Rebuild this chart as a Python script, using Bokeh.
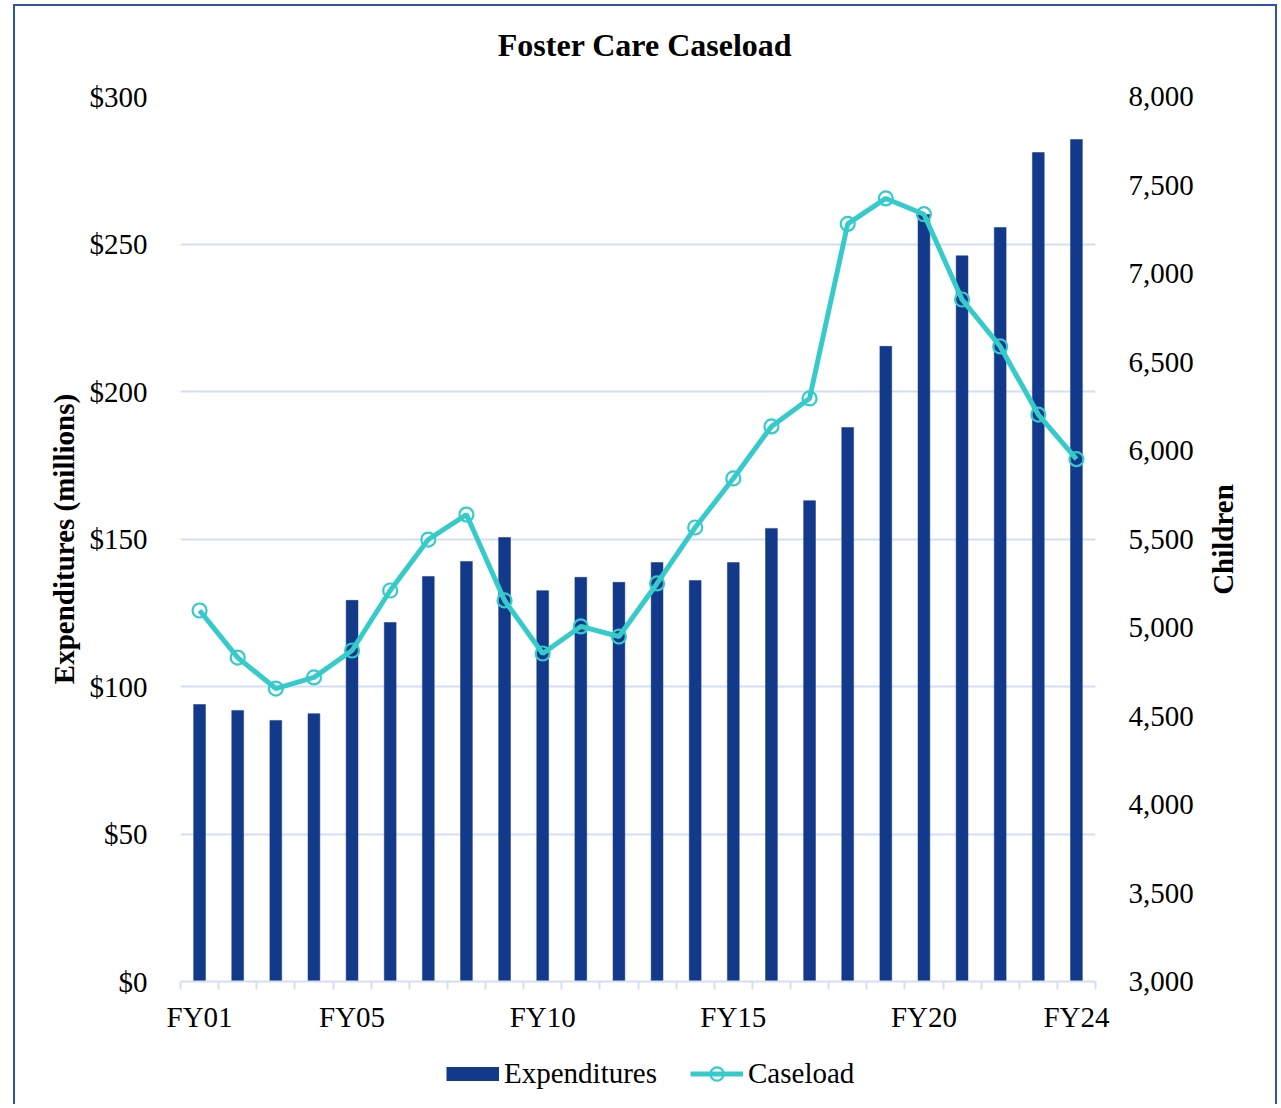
from bokeh.plotting import figure
from bokeh.layouts import column, row
from bokeh.models import (Range1d, LinearAxis, FixedTicker, SingleIntervalTicker,
                          NumeralTickFormatter, Legend, LegendItem, Label, InlineStyleSheet)
from bokeh.core.properties import value
from bokeh.embed import file_html
from bokeh.resources import INLINE
import math

categories = ["FY01", "FY02", "FY03", "FY04", "FY05", "FY06", "FY07", "FY08",
              "FY09", "FY10", "FY11", "FY12", "FY13", "FY14", "FY15", "FY16",
              "FY17", "FY18", "FY19", "FY20", "FY21", "FY22", "FY23", "FY24"]
expenditures = [93.9, 91.9, 88.5, 90.8, 129.2, 121.7, 137.3, 142.4, 150.5, 132.5,
                137.0, 135.3, 142.0, 135.9, 142.0, 153.6, 163.0, 187.8, 215.3, 260.0,
                246.0, 255.6, 281.0, 285.4]
caseload = [5096, 4830, 4655, 4718, 4870, 5209, 5497, 5638, 5153, 4853,
            5006, 4949, 5249, 5565, 5842, 6136, 6294, 7280, 7424, 7335,
            6853, 6588, 6203, 5951]
labeled = ["FY01", "FY05", "FY10", "FY15", "FY20", "FY24"]
title_text = "Foster Care Caseload"
left_title = "Expenditures (millions)"
right_title = "Children"

FONT = "Liberation Serif"
BAR = "#13398A"
LINE = "#36CBCB"
GRID = "#D3DEF3"
FRAME = "#2E54A0"

W = 1280
FL, FR = 180, 1095          # frame left / right (page px)
TOP_H, MAIN_H, LEG_H = 76, 964, 66
SIDE_W = 80


def strip(width, height, xr, yr, **kw):
    f = figure(width=width, height=height, output_backend="svg", toolbar_location=None,
               x_range=xr, y_range=yr, x_axis_type=None, y_axis_type=None, **kw)
    f.outline_line_color = None
    f.background_fill_color = None
    f.border_fill_color = None
    f.grid.visible = False
    return f


# ---- title strip ----
tf = strip(W, TOP_H, Range1d(FL, FR), Range1d(TOP_H, 0),
           min_border_left=FL, min_border_right=W - FR, min_border_top=0, min_border_bottom=0)
tf.add_layout(Label(x=644.5, y=44, text=title_text, text_font=FONT, text_font_size="32px",
                    text_font_style="bold", text_color="black", text_align="center",
                    text_baseline="middle"))

# ---- main chart ----
x = list(range(1, len(categories) + 1))
p = figure(width=W - SIDE_W, height=MAIN_H, output_backend="svg", toolbar_location=None,
           x_range=Range1d(0.5, len(categories) + 0.5), y_range=Range1d(0, 300),
           min_border_left=FL, min_border_right=W - SIDE_W - FR, min_border_top=20,
           min_border_bottom=59)
p.outline_line_color = None
p.background_fill_color = "white"
p.border_fill_color = None
p.extra_y_ranges = {"cases": Range1d(3000, 8000)}

bars = p.vbar(x=x, top=expenditures, width=0.31, fill_color=BAR,
              line_color=BAR, line_width=0.5)
ln = p.line(x=x, y=caseload, y_range_name="cases", line_color=LINE, line_width=5)
mk = p.scatter(x=x, y=caseload, y_range_name="cases", marker="circle", size=14,
               fill_color=None, line_color=LINE, line_width=2.2)

xa = p.xaxis[0]
lab_pos = [categories.index(c) + 1 for c in labeled]
xa.ticker = FixedTicker(ticks=lab_pos, minor_ticks=[i + 0.5 for i in range(len(categories) + 1)])
xa.major_label_overrides = {pos: categories[pos - 1] for pos in lab_pos}
xa.major_tick_in = 0
xa.major_tick_out = 0
xa.minor_tick_in = 0
xa.minor_tick_out = 8
xa.minor_tick_line_color = GRID
xa.minor_tick_line_width = 2
xa.axis_line_color = GRID
xa.axis_line_width = 2
xa.major_label_text_font = FONT
xa.major_label_text_font_size = "29px"
xa.major_label_text_color = "black"
xa.major_label_standoff = 11

ya = p.yaxis[0]
ya.ticker = SingleIntervalTicker(interval=50)
ya.formatter = NumeralTickFormatter(format="$0")
ya.axis_line_color = None
ya.major_tick_line_color = None
ya.major_tick_out = 0
ya.minor_tick_out = 0
ya.minor_tick_line_color = None
ya.major_label_text_font = FONT
ya.major_label_text_font_size = "29px"
ya.major_label_text_color = "black"
ya.major_label_standoff = 33
ya.axis_label = left_title
ya.axis_label_text_font = FONT
ya.axis_label_text_font_size = "29px"
ya.axis_label_text_font_style = "bold"
ya.axis_label_text_color = "black"
ya.axis_label_standoff = 7

ra = LinearAxis(y_range_name="cases", ticker=SingleIntervalTicker(interval=500),
                formatter=NumeralTickFormatter(format="0,0"))
ra.axis_line_color = None
ra.major_tick_line_color = None
ra.major_tick_out = 0
ra.minor_tick_out = 0
ra.minor_tick_line_color = None
ra.major_label_text_font = FONT
ra.major_label_text_font_size = "29px"
ra.major_label_text_color = "black"
ra.major_label_standoff = 33
p.add_layout(ra, "right")

p.ygrid.ticker = SingleIntervalTicker(interval=50)
p.ygrid.grid_line_color = GRID
p.ygrid.grid_line_width = 2
p.xgrid.visible = False

# ---- right title strip (page px coordinates) ----
sf = strip(SIDE_W, MAIN_H, Range1d(W - SIDE_W, W), Range1d(981, 96),
           min_border_left=0, min_border_right=0, min_border_top=20, min_border_bottom=59)
sf.add_layout(Label(x=1222, y=539, text=right_title, angle=math.pi / 2, text_font=FONT,
                    text_font_size="29px", text_font_style="bold", text_color="black",
                    text_align="center", text_baseline="middle"))

# ---- legend strip (proxy renderers fall outside its visible range) ----
lg = strip(W, LEG_H, Range1d(-1, 0), Range1d(-1, 0),
           min_border_left=FL, min_border_right=W - FR, min_border_top=0, min_border_bottom=0)
proxy_bar = lg.line(x=x, y=expenditures, line_color=BAR, line_width=14, line_cap="butt")
proxy_line = lg.line(x=x, y=caseload, line_color=LINE, line_width=5)
proxy_mk = lg.scatter(x=x, y=caseload, marker="circle", size=14, fill_color=None,
                      line_color=LINE, line_width=2.2)
legend = Legend(items=[LegendItem(label="Expenditures", renderers=[proxy_bar]),
                       LegendItem(label="Caseload", renderers=[proxy_line, proxy_mk])],
                orientation="horizontal", location=(266, 16),
                label_text_font=FONT, label_text_font_size="29px",
                label_text_color="black", glyph_width=53, glyph_height=33,
                label_standoff=5, spacing=33, border_line_color=None,
                background_fill_alpha=0, margin=0, padding=0)
lg.add_layout(legend)

css = InlineStyleSheet(css=""":host { position: relative; }
:host::after { content: ""; position: absolute; left: 13px; top: 4px;
  width: 1264px; height: 1100px; border: 2px solid %s; border-bottom: none;
  box-sizing: border-box; pointer-events: none; z-index: 10; }""" % FRAME)
layout = column(tf, row(p, sf, spacing=0), lg, spacing=0, stylesheets=[css])

open("out.html", "w").write(file_html(layout, INLINE))
